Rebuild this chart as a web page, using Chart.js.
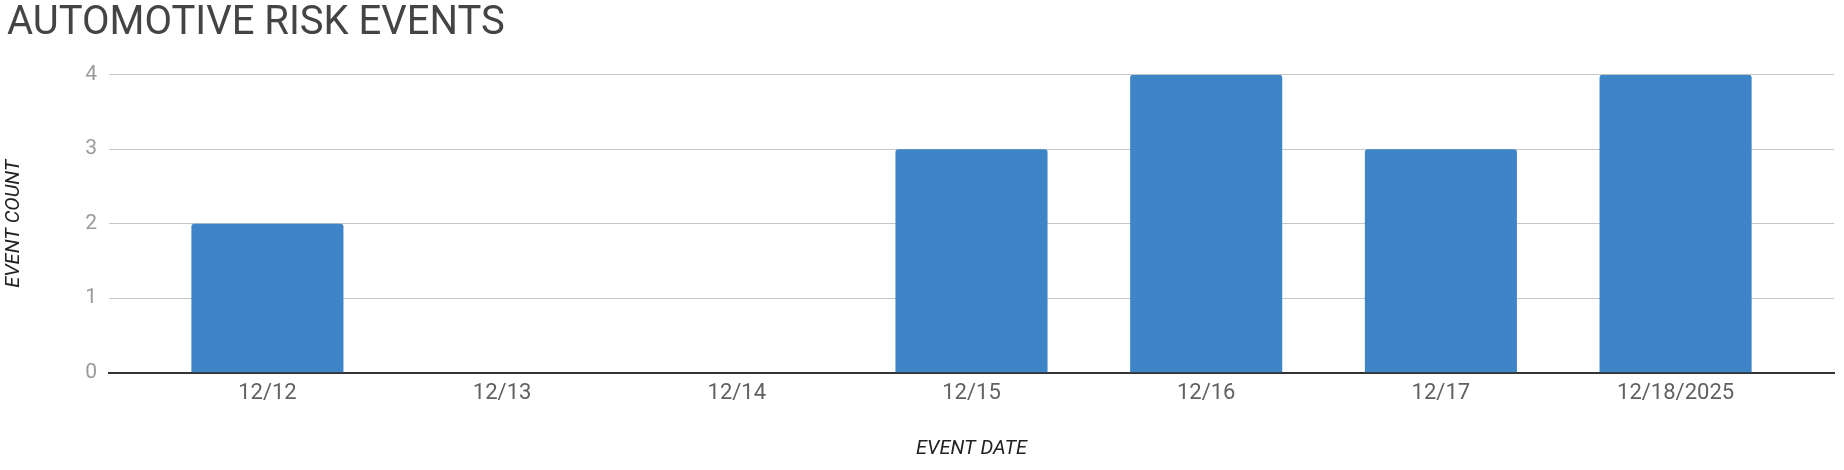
<!DOCTYPE html>
<html>
<head>
<meta charset="utf-8">
<script src="https://cdn.jsdelivr.net/npm/chart.js@4.4.1/dist/chart.umd.min.js"></script>
<style>
  html, body { margin: 0; padding: 0; background: #fff; }
  #wrap { width: 1844px; height: 470px; }
</style>
</head>
<body>
<div id="wrap"><canvas id="riskChart"></canvas></div>
<script>
// chart data
const eventDates = ["12/12", "12/13", "12/14", "12/15", "12/16", "12/17", "12/18/2025"];
const eventCounts = [2, 0, 0, 3, 4, 3, 4];
const countTicks = [0, 1, 2, 3, 4];

const points = eventDates.map((d, i) => ({ x: i, y: eventCounts[i] }));

const riskChart = new Chart(document.getElementById("riskChart"), {
  type: "bar",
  data: {
    datasets: [{
      label: "Event Count",
      data: points,
      backgroundColor: "#3d85c6",
      borderRadius: { topLeft: 3, topRight: 3 },
      borderSkipped: "start",
      categoryPercentage: 1,
      barPercentage: 0.648
    }]
  },
  options: {
    responsive: true,
    maintainAspectRatio: false,
    animation: false,
    layout: { padding: { left: 7, right: 10, top: 0, bottom: 0 } },
    plugins: {
      legend: { display: false },
      tooltip: { enabled: false },
      title: {
        display: true,
        text: "AUTOMOTIVE RISK EVENTS",
        align: "start",
        color: "#444444",
        font: { family: "Roboto", size: 40, weight: "normal", lineHeight: 1.2 },
        padding: { top: 0, bottom: 26.7 }
      }
    },
    scales: {
      x: {
        type: "linear",
        offset: false,
        min: -0.675,
        max: eventDates.length - 1 + 0.675,
        z: 1,
        afterBuildTicks: (scale) => {
          scale.ticks = eventDates.map((d, i) => ({ value: i }));
        },
        afterFit: (scale) => { scale.height = 97.3; },
        grid: { display: false, drawTicks: false },
        border: { display: true, color: "#333333", width: 2 },
        ticks: {
          autoSkip: false,
          maxRotation: 0,
          padding: 8,
          color: "#616161",
          font: { family: "Roboto", size: 22 },
          callback: (v) => eventDates[v]
        },
        title: {
          display: true,
          text: "EVENT DATE",
          color: "#222222",
          font: { family: "Roboto", size: 20, style: "italic", lineHeight: 1.2 },
          padding: { top: 0, bottom: 9 }
        }
      },
      y: {
        min: 0,
        max: 4,
        afterBuildTicks: (scale) => {
          scale.ticks = countTicks.map((v) => ({ value: v }));
        },
        afterFit: (scale) => { scale.width = 102; },
        grid: { color: "#c6c6c6", lineWidth: 1, drawTicks: false },
        border: { display: false },
        ticks: {
          padding: 12,
          color: "#9a9a9a",
          font: { family: "Roboto", size: 21 }
        },
        title: {
          display: true,
          text: "EVENT COUNT",
          color: "#222222",
          font: { family: "Roboto", size: 20, style: "italic", lineHeight: 1.2 },
          padding: { top: -5, bottom: 0 }
        }
      }
    }
  }
});
</script>
</body>
</html>
